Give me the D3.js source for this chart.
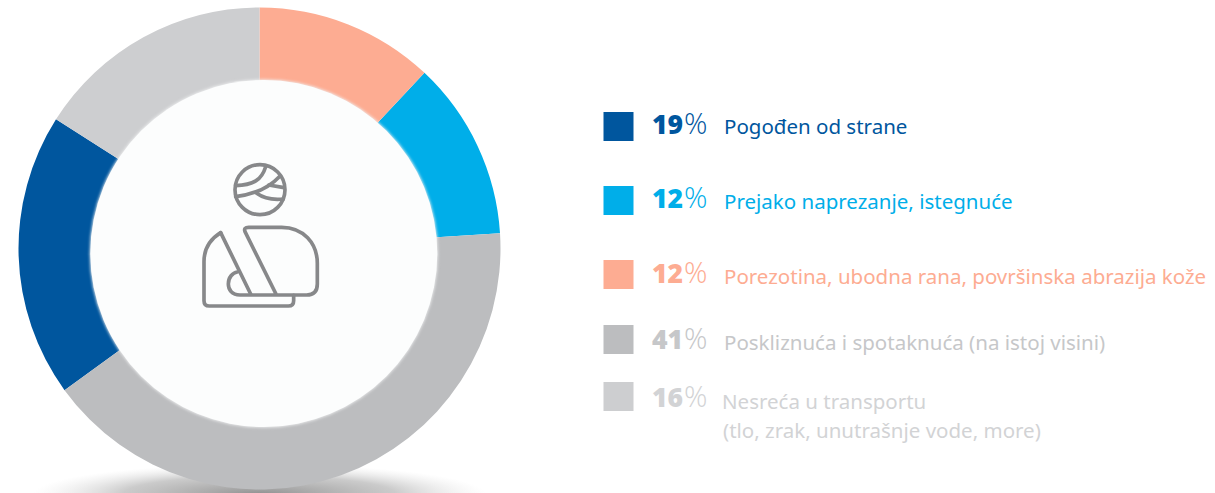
<!DOCTYPE html>
<html><head><meta charset="utf-8">
<script src="https://cdn.jsdelivr.net/npm/d3@7"></script>
<style>html,body{margin:0;padding:0;background:#fff}svg{display:block}text{font-family:"Noto Sans",sans-serif}</style>
</head><body><svg id="c" width="1215" height="493"></svg>
<script>
const categories = ["Pogođen od strane","Prejako naprezanje, istegnuće","Porezotina, ubodna rana, površinska abrazija kože","Poskliznuća i spotaknuća (na istoj visini)","Nesreća u transportu"];
const subLabels = ["","","","","(tlo, zrak, unutrašnje vode, more)"];
const values = [19,12,12,41,16];
const sliceColors = ["#00569e","#00aee9","#fdac92","#bcbdbf","#cdced0"];
const textColors = ["#00569e","#00aee9","#fdac92","#c6c7c9","#d2d3d5"];
const drawOrder = [2,1,3,0,4];

const svg = d3.select("#c");
const defs = svg.append("defs");
const rg = defs.append("radialGradient").attr("id","sh");
rg.append("stop").attr("offset","0").attr("stop-color","#858585").attr("stop-opacity",.9);
rg.append("stop").attr("offset","0.6").attr("stop-color","#a8a8a8").attr("stop-opacity",.6);
rg.append("stop").attr("offset","1").attr("stop-color","#d8d8d8").attr("stop-opacity",0);
const blur = defs.append("filter").attr("id","glow").attr("x","-10%").attr("y","-10%").attr("width","120%").attr("height","120%");
blur.append("feGaussianBlur").attr("stdDeviation",1.5);

const cx=259.5, cy=248.5, R=241;
const hole={x:263.8,y:253.5,r:174};
svg.append("ellipse").attr("cx",cx).attr("cy",494).attr("rx",226).attr("ry",30).attr("fill","url(#sh)");

const pie = d3.pie().sort((a,b)=>drawOrder.indexOf(a.i)-drawOrder.indexOf(b.i)).value(d=>d.v);
const arc = d3.arc().innerRadius(150).outerRadius(R);
const g = svg.append("g").attr("transform",`translate(${cx},${cy})`);
g.selectAll("path").data(pie(values.map((v,i)=>({v,i})))).join("path")
  .attr("d",arc).attr("fill",d=>sliceColors[d.data.i]);
svg.append("circle").attr("cx",hole.x).attr("cy",hole.y).attr("r",hole.r).attr("fill","#f0f1f2").attr("filter","url(#glow)");
svg.append("circle").attr("cx",hole.x).attr("cy",hole.y).attr("r",hole.r-.5).attr("fill","#fcfdfd");

// icon
const ic = svg.append("g").attr("transform","translate(190,150) scale(0.3333)")
  .attr("fill","none").attr("stroke","#87888a").attr("stroke-width",11).attr("stroke-linecap","round").attr("stroke-linejoin","round");
ic.append("circle").attr("cx",210).attr("cy",119).attr("r",75);
["M137 107C190 105 215 90 227 50","M137 140C200 132 240 110 268 80","M236 105L282 113","M200 130C225 148 250 150 280 147"]
 .forEach(d=>ic.append("path").attr("d",d));
["M92 248L182 432","M92 248C60 268 42 295 42 335V452Q42 468 58 468H295Q311 468 311 452V436",
 "M258 432L165 245Q160 232 176 232H275C340 232 382 280 382 340V402Q382 435 350 435H150C125 435 115 418 115 402C115 382 128 368 142 366"]
 .forEach(d=>ic.append("path").attr("d",d));

// legend
const boxY=[112,186,260,325,382];
const base=[133.5,208,283,349,407];
const lab=[134,209,284,350,409];
const leg = svg.append("g");
values.forEach((v,i)=>{
  leg.append("rect").attr("x",603.5).attr("y",boxY[i]).attr("width",30).attr("height",29).attr("fill",sliceColors[i]);
  const t=leg.append("text").attr("x",652).attr("y",base[i]).attr("fill",textColors[i]);
  t.append("tspan").attr("font-family","'Noto Sans'").attr("font-weight",900).attr("font-size",26.5).text(v);
  t.append("tspan").attr("font-weight",300).attr("font-family","'Open Sans'").attr("font-size",29).attr("dx",1).text("%");
  leg.append("text").attr("x",i==4?722:724).attr("y",lab[i]).attr("fill",textColors[i]).attr("font-size",20.5).text(categories[i]);
  if(subLabels[i]) leg.append("text").attr("x",723).attr("y",438).attr("fill",textColors[i]).attr("font-size",20.5).text(subLabels[i]);
});
</script></body></html>
